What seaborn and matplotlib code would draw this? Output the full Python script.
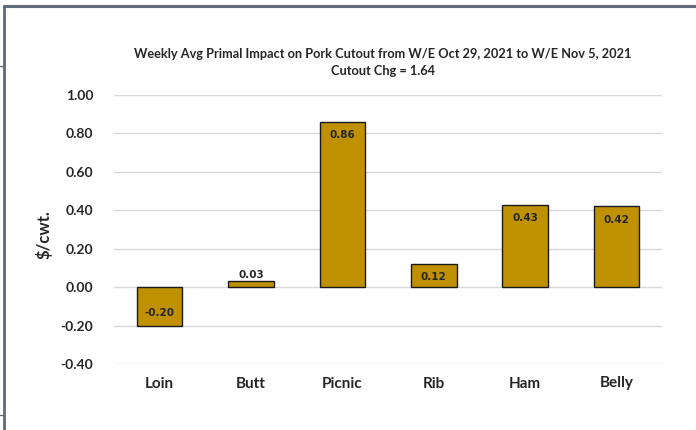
import matplotlib
matplotlib.use("Agg")
import matplotlib.pyplot as plt
from matplotlib.lines import Line2D
import seaborn as sns
import pandas as pd

primals = ["Loin", "Butt", "Picnic", "Rib", "Ham", "Belly"]
impact = [-0.20, 0.03, 0.86, 0.12, 0.43, 0.42]
y_ticks = [-0.40, -0.20, 0.00, 0.20, 0.40, 0.60, 0.80, 1.00]
title_lines = ["Weekly Avg Primal Impact on Pork Cutout from W/E Oct 29, 2021 to W/E Nov 5, 2021",
               "Cutout Chg = 1.64"]

sns.set_style("white")
plt.rcParams["font.family"] = ["Lato", "DejaVu Sans"]

df = pd.DataFrame({"primal": primals, "impact": impact})

fig = plt.figure(figsize=(6.96, 4.30), dpi=100)
ax = fig.add_axes([114 / 696, 1 - 364 / 430, (662 - 114) / 696, (364 - 95) / 430])

sns.barplot(data=df, x="primal", y="impact", color="#BF9000", width=0.5,
            edgecolor="#1A1A1A", linewidth=1.0, saturation=1, ax=ax, zorder=3)

ax.set_ylim(-0.40, 1.00)
ax.set_yticks(y_ticks)
ax.set_yticklabels([f"{v:.2f}" for v in y_ticks], fontsize=10, fontweight="bold")
ax.set_xlim(-0.5, len(primals) - 0.5)
ax.tick_params(axis="both", length=0)
ax.tick_params(axis="y", pad=15)
ax.tick_params(axis="x", pad=9)
for lbl in ax.get_xticklabels():
    lbl.set_fontsize(11)
    lbl.set_fontweight("bold")
ax.grid(axis="y", color="#D9D9D9", linewidth=1.0, zorder=0)
ax.set_axisbelow(True)
for s in ax.spines.values():
    s.set_visible(False)
ax.set_xlabel("")
ax.set_ylabel("$/cwt.", fontsize=12, fontweight="bold")
ax.yaxis.set_label_coords(-0.113, 0.483)

# value labels: inside the bar end, outside when the bar is too short
inset = 0.068
for i, v in enumerate(impact):
    if abs(v) < 0.08:
        ax.text(i, v + 0.005, f"{v:.2f}", ha="center", va="bottom",
                fontsize=7.5, fontweight="bold", family="DejaVu Sans", zorder=4)
    else:
        y = v - inset if v > 0 else v + inset
        ax.text(i, y, f"{v:.2f}", ha="center", va="center",
                fontsize=7.5, fontweight="bold", family="DejaVu Sans", zorder=4)

fig.text(383 / 696, 1 - 54 / 430, title_lines[0], ha="center", va="center",
         fontsize=9.2, fontweight="bold")
fig.text(383 / 696, 1 - 71 / 430, title_lines[1], ha="center", va="center",
         fontsize=9.2, fontweight="bold")

# frame lines around the chart area
border = "#5F6B78"
fig.add_artist(Line2D([3.5 / 696, 1.0], [1 - 5.5 / 430, 1 - 5.5 / 430],
                      color=border, linewidth=2.2, transform=fig.transFigure))
fig.add_artist(Line2D([3.5 / 696, 3.5 / 696], [0, 1 - 5.5 / 430],
                      color=border, linewidth=2.0, transform=fig.transFigure))
for yy in (66, 415):
    fig.add_artist(Line2D([0, 3.5 / 696], [1 - yy / 430, 1 - yy / 430],
                          color=border, linewidth=1.0, transform=fig.transFigure))

fig.savefig("out.png", dpi=100)
